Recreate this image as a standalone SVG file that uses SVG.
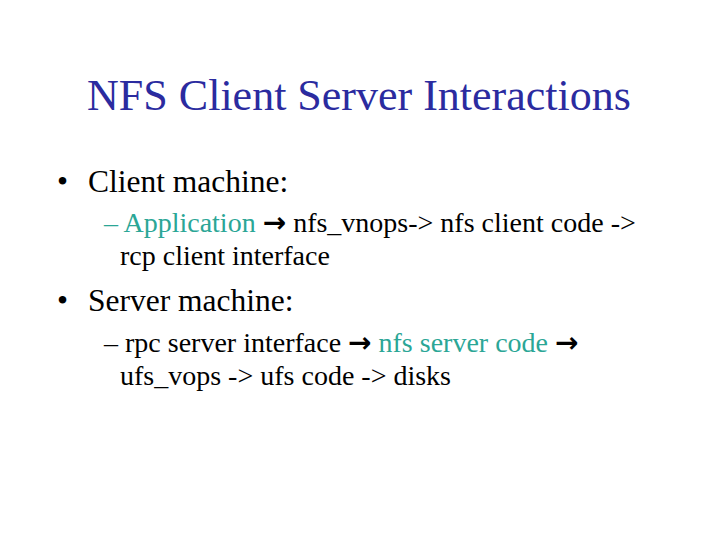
<svg xmlns="http://www.w3.org/2000/svg" width="720" height="540" viewBox="0 0 720 540">
<style>
text{font-family:"Liberation Serif","Times New Roman",serif;fill:#000}
.title{font-size:44px;fill:#2b2b9f}
.l1{font-size:31.5px}
.l2{font-size:28px}
.teal{fill:#2ba696}
.arr{font-family:"DejaVu Sans",sans-serif;font-weight:bold;font-size:28px}
</style>
<rect width="720" height="540" fill="#fff"/>
<g id="title"><text class="title" x="359" y="110" text-anchor="middle">NFS Client Server Interactions</text></g>
<g id="client">
<text class="l1" x="57" y="192">•</text>
<text class="l1" x="88" y="192">Client machine:</text>
<text class="l2" x="104" y="232"><tspan class="teal">– Application</tspan> <tspan class="arr">→</tspan> nfs_vnops-&gt; nfs client code -&gt;</text>
<text class="l2" x="120" y="265">rcp client interface</text>
</g>
<g id="server">
<text class="l1" x="57" y="311">•</text>
<text class="l1" x="88" y="311">Server machine:</text>
<text class="l2" x="104" y="352">– rpc server interface <tspan class="arr">→</tspan> <tspan class="teal">nfs server code</tspan> <tspan class="arr">→</tspan></text>
<text class="l2" x="120" y="385">ufs_vops -&gt; ufs code -&gt; disks</text>
</g>
</svg>
